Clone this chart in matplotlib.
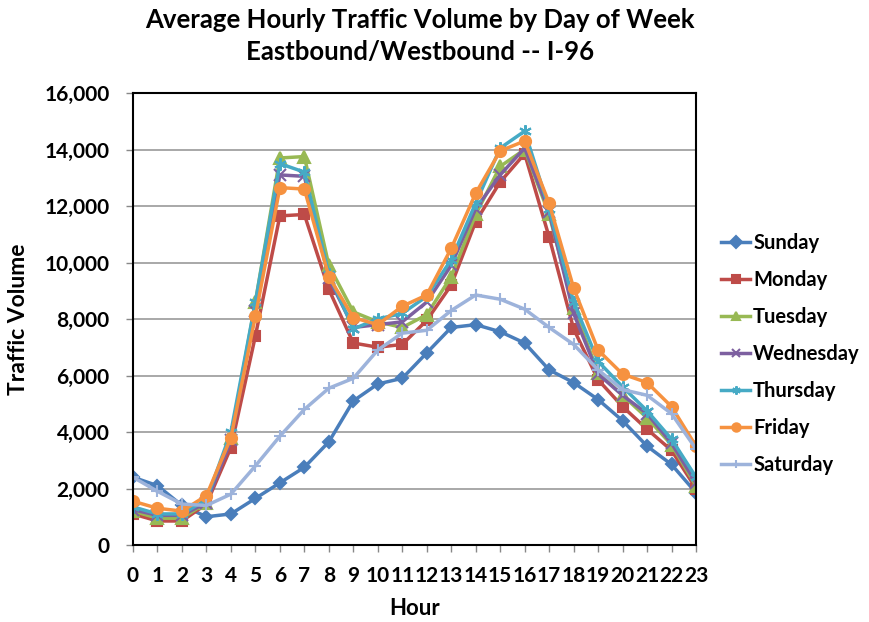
import numpy as np
import matplotlib
matplotlib.use('Agg')
import matplotlib.pyplot as plt
from matplotlib.ticker import FuncFormatter

plt.rcParams['font.family'] = ['Lato', 'DejaVu Sans']

hours = list(range(24))
sunday = [2400, 2100, 1400, 1000, 1100, 1650, 2200, 2750, 3650, 5100, 5700, 5900,
          6800, 7700, 7800, 7550, 7150, 6200, 5750, 5150, 4400, 3500, 2850, 1850]
monday = [1100, 850, 850, 1450, 3450, 7400, 11650, 11700, 9050, 7150, 7000, 7100,
          7950, 9200, 11450, 12850, 13850, 10900, 7650, 5850, 4900, 4100, 3350, 2000]
tuesday = [1200, 950, 950, 1500, 3800, 8600, 13700, 13750, 9900, 8250, 7900, 7700,
           8150, 9500, 11700, 13400, 14000, 11700, 8400, 6100, 5300, 4500, 3550, 2100]
wednesday = [1250, 1050, 1050, 1500, 3700, 8300, 13100, 13050, 9450, 7700, 7800, 7900,
             8600, 9900, 11900, 13100, 14050, 11800, 8200, 6050, 5300, 4650, 3600, 2200]
thursday = [1350, 1100, 1100, 1600, 4000, 8600, 13500, 13200, 9600, 7650, 8000, 8200,
            8800, 10100, 12100, 14050, 14650, 11900, 8600, 6500, 5600, 4750, 3750, 2400]
friday = [1550, 1300, 1200, 1750, 3800, 8100, 12650, 12600, 9500, 8050, 7800, 8450,
          8850, 10500, 12450, 13950, 14300, 12100, 9100, 6900, 6050, 5750, 4900, 3500]
saturday = [2400, 1900, 1450, 1400, 1800, 2800, 3850, 4800, 5550, 5900, 6900, 7500,
            7600, 8300, 8850, 8700, 8350, 7700, 7100, 6200, 5500, 5300, 4650, 3400]

series = [
    ('Sunday', sunday, '#4A7EBB', 'D', 6),
    ('Monday', monday, '#BE4B48', 's', 7),
    ('Tuesday', tuesday, '#98B954', '^', 8),
    ('Wednesday', wednesday, '#7D60A0', 'x', 8),
    ('Thursday', thursday, '#46AAC5', (6, 2, 0), 9),
    ('Friday', friday, '#F69240', 'o', 8),
    ('Saturday', saturday, '#9DB3DB', '+', 9),
]

fig = plt.figure(figsize=(8.7, 6.22), dpi=100)
ax = fig.add_axes([133 / 870, 1 - 545 / 622, (696 - 133) / 870, (545 - 93) / 622])

for name, vals, col, mk, ms in series:
    ax.plot(hours, vals, color=col, marker=mk, markersize=ms, linewidth=2.5,
            markeredgewidth=1.5, label=name)

ax.set_xlim(0, 23)
ax.set_ylim(0, 16000)
ax.set_yticks(np.arange(0, 16001, 2000))
ax.yaxis.set_major_formatter(FuncFormatter(lambda v, p: '{:,.0f}'.format(v)))
ax.set_xticks(hours)
ax.tick_params(axis='both', labelsize=15, length=5, width=1, direction='out',
               color='#888888')
ax.tick_params(axis='x', pad=10)
ax.tick_params(axis='y', pad=12)
for lab in ax.get_xticklabels() + ax.get_yticklabels():
    lab.set_fontweight('bold')
ax.grid(axis='y', color='#999999', linewidth=1.2)
ax.set_axisbelow(True)
for s in ax.spines.values():
    s.set_linewidth(1.5)
    s.set_color('black')

ax.set_xlabel('Hour', fontsize=16, fontweight='bold', labelpad=9)
ax.set_ylabel('Traffic Volume', fontsize=16.5, fontweight='bold', labelpad=11)

fig.text(420 / 870, 1 - 20 / 622, 'Average Hourly Traffic Volume by Day of Week',
         ha='center', va='center', fontsize=18.5, fontweight='bold')
fig.text(420 / 870, 1 - 52 / 622, 'Eastbound/Westbound -- I-96',
         ha='center', va='center', fontsize=18.5, fontweight='bold')

leg = fig.legend(loc='center left', bbox_to_anchor=(721 / 870, 1 - 354 / 622),
                 frameon=False, prop={'size': 14.5, 'weight': 'bold'},
                 handlelength=1.45, labelspacing=0.85, handletextpad=0.15,
                 borderpad=0, borderaxespad=0)
for h in leg.legend_handles:
    h.set_markersize(6)

fig.savefig('out.png', dpi=100)
